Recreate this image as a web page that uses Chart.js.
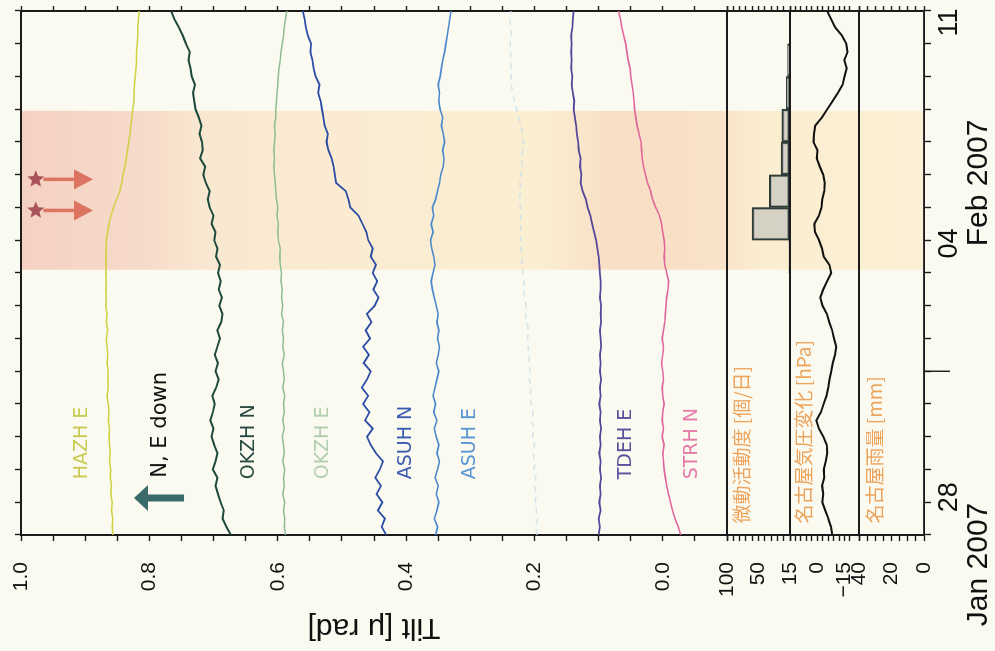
<!DOCTYPE html>
<html>
<head>
<meta charset="utf-8">
<script src="https://cdn.jsdelivr.net/npm/chart.js@4.4.1/dist/chart.umd.min.js"></script>
<style>
  html, body { margin: 0; padding: 0; background: #fbfaf1; overflow: hidden; }
  /* the figure is printed turned a quarter turn, so the chart is drawn upright and rotated */
  #wrap { position: absolute; left: 0; top: 0; width: 651px; height: 995px;
          transform-origin: 0 0; transform: translate(0, 651px) rotate(-90deg); }
</style>
</head>
<body>
<div id="wrap"><canvas id="tiltChart" width="651" height="995"></canvas></div>
<script>
// days since 27 Jan 2007 00:00
const days = [
  0, 0.25, 0.5, 0.75, 1, 1.25, 1.5, 1.75, 2, 2.25, 2.5, 2.75, 3, 3.25, 3.5, 3.75,
  4, 4.25, 4.5, 4.75, 5, 5.25, 5.5, 5.75, 6, 6.25, 6.5, 6.75, 7, 7.25, 7.5, 7.75,
  8, 8.25, 8.5, 8.75, 9, 9.25, 9.5, 9.75, 10, 10.25, 10.5, 10.75, 11, 11.25, 11.5, 11.75,
  12, 12.25, 12.5, 12.75, 13, 13.25, 13.5, 13.75, 14, 14.25, 14.5, 14.75, 15, 15.25, 15.5, 15.75,
  16
];

// tilt [micro rad], four rows of four days each
const hazhE = [
  0.857, 0.858, 0.857, 0.859, 0.858, 0.860, 0.859, 0.861, 0.860, 0.862, 0.861, 0.862, 0.863, 0.862, 0.864, 0.863,
  0.864, 0.866, 0.864, 0.865, 0.864, 0.866, 0.865, 0.866, 0.867, 0.865, 0.867, 0.866, 0.868, 0.867, 0.868, 0.867,
  0.868, 0.867, 0.868, 0.867, 0.867, 0.865, 0.863, 0.860, 0.856, 0.851, 0.846, 0.843, 0.841, 0.838, 0.836, 0.834,
  0.832, 0.830, 0.829, 0.827, 0.826, 0.824, 0.824, 0.823, 0.822, 0.821, 0.820, 0.820, 0.819, 0.818, 0.818, 0.817,
  0.816
];
const okzhN = [
  0.673, 0.680, 0.686, 0.684, 0.689, 0.693, 0.697, 0.694, 0.701, 0.697, 0.694, 0.699, 0.703, 0.700, 0.705, 0.701,
  0.698, 0.702, 0.696, 0.692, 0.697, 0.693, 0.698, 0.694, 0.690, 0.694, 0.688, 0.686, 0.691, 0.687, 0.692, 0.689,
  0.693, 0.690, 0.696, 0.694, 0.699, 0.697, 0.703, 0.700, 0.706, 0.709, 0.706, 0.712, 0.716, 0.713, 0.721, 0.717,
  0.718, 0.722, 0.719, 0.723, 0.728, 0.730, 0.732, 0.729, 0.734, 0.736, 0.739, 0.737, 0.743, 0.748, 0.754, 0.761,
  0.766
];
const okzhE = [
  0.588, 0.590, 0.589, 0.591, 0.589, 0.592, 0.590, 0.591, 0.589, 0.592, 0.590, 0.591, 0.593, 0.590, 0.592, 0.590,
  0.591, 0.589, 0.592, 0.590, 0.591, 0.593, 0.590, 0.592, 0.591, 0.593, 0.591, 0.594, 0.592, 0.594, 0.593, 0.595,
  0.594, 0.596, 0.597, 0.596, 0.599, 0.600, 0.599, 0.601, 0.600, 0.602, 0.603, 0.604, 0.605, 0.606, 0.605, 0.606,
  0.605, 0.604, 0.605, 0.603, 0.603, 0.602, 0.601, 0.600, 0.599, 0.598, 0.596, 0.595, 0.593, 0.591, 0.590, 0.588,
  0.586
];
const asuhN = [
  0.431, 0.438, 0.433, 0.444, 0.437, 0.446, 0.439, 0.448, 0.441, 0.436, 0.447, 0.455, 0.461, 0.452, 0.464, 0.457,
  0.467, 0.459, 0.469, 0.461, 0.455, 0.466, 0.458, 0.467, 0.456, 0.463, 0.454, 0.461, 0.449, 0.443, 0.451, 0.445,
  0.452, 0.447, 0.455, 0.452, 0.459, 0.462, 0.468, 0.474, 0.487, 0.490, 0.494, 0.509, 0.511, 0.513, 0.516, 0.521,
  0.524, 0.522, 0.527, 0.529, 0.531, 0.533, 0.537, 0.535, 0.541, 0.544, 0.546, 0.549, 0.548, 0.553, 0.556, 0.558,
  0.561
];
const asuhE = [
  0.354, 0.351, 0.356, 0.352, 0.349, 0.353, 0.350, 0.355, 0.351, 0.348, 0.352, 0.349, 0.353, 0.356, 0.352, 0.357,
  0.354, 0.358, 0.355, 0.352, 0.349, 0.353, 0.350, 0.348, 0.351, 0.349, 0.352, 0.350, 0.353, 0.356, 0.359, 0.361,
  0.358, 0.355, 0.357, 0.360, 0.362, 0.358, 0.361, 0.357, 0.359, 0.354, 0.351, 0.348, 0.346, 0.342, 0.341, 0.343,
  0.340, 0.342, 0.345, 0.343, 0.347, 0.349, 0.348, 0.350, 0.347, 0.345, 0.343, 0.340, 0.338, 0.336, 0.334, 0.332,
  0.330
];
// very faint trace with no readable name
const faintTrace = [
  0.196, 0.198, 0.195, 0.197, 0.199, 0.197, 0.200, 0.198, 0.201, 0.199, 0.202, 0.200, 0.203, 0.201, 0.204, 0.202,
  0.205, 0.207, 0.205, 0.208, 0.207, 0.209, 0.208, 0.210, 0.211, 0.209, 0.212, 0.214, 0.213, 0.215, 0.217, 0.216,
  0.218, 0.220, 0.219, 0.221, 0.222, 0.220, 0.223, 0.221, 0.222, 0.224, 0.221, 0.223, 0.221, 0.219, 0.220, 0.218,
  0.217, 0.219, 0.221, 0.224, 0.228, 0.231, 0.234, 0.236, 0.237, 0.236, 0.238, 0.237, 0.238, 0.236, 0.237, 0.238,
  0.237
];
const tdehE = [
  0.100, 0.098, 0.100, 0.097, 0.099, 0.097, 0.098, 0.096, 0.098, 0.097, 0.099, 0.097, 0.098, 0.096, 0.098, 0.097,
  0.099, 0.097, 0.098, 0.096, 0.098, 0.097, 0.098, 0.096, 0.097, 0.098, 0.096, 0.097, 0.096, 0.098, 0.097, 0.097,
  0.098, 0.099, 0.100, 0.102, 0.104, 0.107, 0.110, 0.113, 0.117, 0.120, 0.125, 0.128, 0.127, 0.129, 0.128, 0.131,
  0.132, 0.134, 0.135, 0.137, 0.139, 0.138, 0.140, 0.142, 0.141, 0.143, 0.142, 0.143, 0.142, 0.143, 0.141, 0.140,
  0.139
];
const strhN = [
  -0.028, -0.024, -0.019, -0.015, -0.012, -0.009, -0.006, -0.004, -0.002, -0.001, 0.000, -0.002, 0.001, -0.001, 0.001, 0.000,
  -0.002, 0.000, 0.001, -0.001, 0.000, 0.002, 0.000, -0.001, 0.001, -0.001, -0.003, -0.004, -0.005, -0.006, -0.008, -0.009,
  -0.006, -0.003, -0.002, -0.003, -0.002, 0.000, 0.002, 0.005, 0.011, 0.016, 0.019, 0.024, 0.027, 0.030, 0.032, 0.033,
  0.034, 0.037, 0.040, 0.042, 0.044, 0.045, 0.046, 0.048, 0.050, 0.051, 0.054, 0.056, 0.058, 0.061, 0.064, 0.066,
  0.069
];

// Nagoya air pressure change [hPa]
const pressure = [
  -8.3, -7.6, -6.1, -4.4, -2.8, -3.3, -2.7, -3.8, -3.6, -4.7, -5.5, -5.2, -3.4, -0.9, 0.5, -2.0,
  -3.5, -5.1, -6.1, -6.7, -7.7, -8.5, -9.8, -10.5, -9.2, -8.2, -6.6, -5.3, -2.9, -1.7, -3.3, -5.5,
  -7.7, -6.7, -3.6, -2.6, -1.0, 1.2, 1.6, -0.9, -2.3, -2.8, -3.9, -4.1, -3.3, -1.4, 0.3, -0.1,
  2.1, 1.8, 1.1, -2.6, -5.5, -8.5, -11.4, -14.0, -15.0, -16.2, -14.9, -16.7, -16.0, -13.6, -9.9, -7.6,
  -5.5
];

// tremor activity [events / day], bars centred on each day
const tremorDays = [8.5, 9.5, 10.5, 11.5, 12.5, 13.5, 14.5];
const tremorCounts = [2, 60, 33, 14, 13, 6, 4];

// Nagoya rainfall [mm / day] - none in this period
const rainDays = [0.5, 1.5, 2.5, 3.5, 4.5, 5.5, 6.5, 7.5, 8.5, 9.5, 10.5, 11.5, 12.5, 13.5, 14.5, 15.5];
const rainMm = [0, 0, 0, 0, 0, 0, 0, 0, 0, 0, 0, 0, 0, 0, 0, 0];

// tick labels
const tiltTicks = [0, 0.2, 0.4, 0.6, 0.8, 1.0];
const tremorTicks = [100, 50];
const pressureTicks = [15, 0, -15];
const rainTicks = [40, 20, 0];
const dayLabels = ['28', '04', '11'];
const dayLabelAt = [1.15, 8.9, 15.65];
const monthLabels = ['Jan 2007', 'Feb 2007'];
const monthLabelAt = [-0.9, 10.75];
const monthStart = 5;          // 1 Feb

// shaded slow-slip period and the two low-frequency events
const slipPeriod = [8.1, 12.95];
const eventDays = [9.91, 10.86];

Chart.defaults.font.family = '"Liberation Sans", Arial, sans-serif';
Chart.defaults.color = '#111';

const ink = '#1b1b1b';

function has(list, v) {
    return list.some(l => Math.abs(l - v) < 1e-6);
}

function leftAxis(min, max, step, weight, stackWeight, list, fmt) {
    return {
        type: 'linear', position: 'left', stack: 'left', weight: weight, stackWeight: stackWeight,
        min: min, max: max,
        border: { color: ink, width: 2 },
        grid: { drawOnChartArea: false, tickLength: 6, tickWidth: 1.4, tickColor: ink },
        ticks: {
            stepSize: step, autoSkip: false, padding: 21, font: { size: 21 }, color: '#111',
            callback: v => has(list, v) ? fmt(v) : ''
        },
        afterFit: s => { s.width = 116; s.paddingTop = 0; s.paddingBottom = 0; }
    };
}

function rightAxis(min, max, step, weight, stackWeight) {
    return {
        type: 'linear', position: 'right', stack: 'right', weight: weight, stackWeight: stackWeight,
        min: min, max: max,
        border: { color: ink, width: 2 },
        grid: { drawOnChartArea: false, tickLength: 5, tickWidth: 1.4, tickColor: ink },
        ticks: { display: false, stepSize: step, autoSkip: false },
        afterFit: s => { s.width = 11; s.paddingTop = 0; s.paddingBottom = 0; }
    };
}

function timeAxis(position, tick, height) {
    return {
        type: 'linear', position: position, min: 0, max: 16, offset: false,
        border: { color: ink, width: 2 },
        grid: { drawOnChartArea: false, offset: false, tickLength: tick, tickWidth: 1.4, tickColor: ink },
        ticks: { display: false, stepSize: 1, autoSkip: false },
        afterFit: s => { s.height = height; s.paddingLeft = 0; s.paddingRight = 0; }
    };
}

const minus = v => (v < 0 ? '\u2212' + Math.abs(v) : String(Math.abs(v)));

const tags = [
    { text: 'HAZH E', color: '#c9cc52', value: 0.905 },
    { text: 'OKZH N', color: '#27493f', value: 0.645 },
    { text: 'OKZH E', color: '#b2cfae', value: 0.530 },
    { text: 'ASUH N', color: '#3a5bb0', value: 0.400 },
    { text: 'ASUH E', color: '#5b95d2', value: 0.301 },
    { text: 'TDEH E', color: '#5e509c', value: 0.058 },
    { text: 'STRH N', color: '#e47aa8', value: -0.045 }
];
const panelTags = [
    { text: '微動活動度 [個/日]', scale: 'yh', value: 76 },
    { text: '名古屋気圧変化 [hPa]', scale: 'yp', value: 7.3 },
    { text: '名古屋雨量 [mm]', scale: 'yr', value: 30 }
];

function arrow(ctx, x, y0, y1, shaft, headLen, headHalf, color) {
    const dir = y1 > y0 ? 1 : -1;
    const yb = y1 - dir * headLen;
    ctx.fillStyle = color;
    ctx.fillRect(x - shaft / 2, Math.min(y0, yb), shaft, Math.abs(yb - y0));
    ctx.beginPath();
    ctx.moveTo(x - headHalf, yb);
    ctx.lineTo(x + headHalf, yb);
    ctx.lineTo(x, y1);
    ctx.closePath();
    ctx.fill();
}

function star(ctx, cx, cy, r, color) {
    ctx.beginPath();
    for (let i = 0; i < 10; i++) {
        const rr = i % 2 ? r * 0.45 : r;
        const a = i * Math.PI / 5;
        ctx.lineTo(cx + rr * Math.cos(a), cy + rr * Math.sin(a));
    }
    ctx.closePath();
    ctx.fillStyle = color;
    ctx.fill();
}

const overlay = {
    id: 'overlay',
    beforeDraw(chart) {
        const { ctx, chartArea: a, scales } = chart;
        const x0 = scales.x.getPixelForValue(slipPeriod[0]);
        const x1 = scales.x.getPixelForValue(slipPeriod[1]);
        const g = ctx.createLinearGradient(0, a.top, 0, a.bottom);
        g.addColorStop(0, '#f5d1c2');
        g.addColorStop(0.14, '#f7dbca');
        g.addColorStop(0.2, '#f9e8d1');
        g.addColorStop(0.57, '#fbefd2');
        g.addColorStop(0.66, '#f8dec4');
        g.addColorStop(0.77, '#f8e2c8');
        g.addColorStop(0.82, '#fbedd0');
        g.addColorStop(1, '#fbf0d5');
        ctx.save();
        ctx.fillStyle = g;
        ctx.fillRect(x0, a.top, x1 - x0, a.bottom - a.top);
        ctx.restore();
    },
    afterDatasetsDraw(chart) {
        const { ctx, chartArea: a, scales } = chart;
        const x = scales.x, y = scales.y;
        ctx.save();
        // panel separators
        ctx.strokeStyle = ink;
        ctx.lineWidth = 2;
        ['y', 'yh', 'yp'].forEach(id => {
            const v = scales[id].bottom;
            ctx.beginPath();
            ctx.moveTo(a.left, v);
            ctx.lineTo(a.right, v);
            ctx.stroke();
        });
        // station names
        ctx.textAlign = 'left';
        ctx.textBaseline = 'middle';
        ctx.font = '19px "DejaVu Sans"';
        tags.forEach(t => {
            ctx.fillStyle = t.color;
            ctx.fillText(t.text, x.getPixelForValue(1.7), y.getPixelForValue(t.value));
        });
        ctx.font = '19px "Noto Sans CJK JP"';
        ctx.fillStyle = '#eca45c';
        panelTags.forEach(t => {
            ctx.fillText(t.text, x.getPixelForValue(0.35), scales[t.scale].getPixelForValue(t.value));
        });
        // tilt direction
        ctx.font = '21px "DejaVu Sans"';
        ctx.fillStyle = '#111';
        ctx.fillText('N, E down', x.getPixelForValue(1.75), y.getPixelForValue(0.782));
        arrow(ctx, x.getPixelForValue(1.13), y.getPixelForValue(0.746), y.getPixelForValue(0.824), 7, 14, 13, '#3b6a6a');
        // events
        eventDays.forEach(d => {
            const px = x.getPixelForValue(d);
            arrow(ctx, px, y.getPixelForValue(0.965), y.getPixelForValue(0.888), 3.5, 19, 10, '#dc7462');
            star(ctx, px, y.getPixelForValue(0.977), 9, '#a9535a');
        });
        ctx.restore();
    },
    afterDraw(chart) {
        const { ctx, chartArea: a, scales } = chart;
        const x = scales.x;
        ctx.save();
        ctx.strokeStyle = ink;
        ctx.lineWidth = 1.4;
        const m = x.getPixelForValue(monthStart);
        ctx.beginPath();
        ctx.moveTo(m, a.bottom);
        ctx.lineTo(m, a.bottom + 26);
        ctx.stroke();
        ctx.fillStyle = '#111';
        ctx.font = '27px "Liberation Sans"';
        ctx.textAlign = 'center';
        ctx.textBaseline = 'middle';
        dayLabels.forEach((t, i) => ctx.fillText(t, x.getPixelForValue(dayLabelAt[i]), a.bottom + 26));
        ctx.font = '30px "Liberation Sans"';
        monthLabels.forEach((t, i) => ctx.fillText(t, x.getPixelForValue(monthLabelAt[i]), a.bottom + 55));
        ctx.restore();
    }
};

const line = (label, values, color, width) => ({
    type: 'line', label: label, data: values, xAxisID: 'x', yAxisID: 'y',
    borderColor: color, borderWidth: width, pointRadius: 0, tension: 0
});

const config = {
    type: 'line',
    data: {
        labels: days,
        datasets: [
            line('HAZH E', hazhE, '#cfd140', 1.5),
            line('OKZH N', okzhN, '#1d4a3c', 2),
            line('OKZH E', okzhE, '#8fbd93', 1.5),
            line('ASUH N', asuhN, '#2a4ca4', 1.8),
            line('ASUH E', asuhE, '#4a88cc', 1.6),
            Object.assign(line('', faintTrace, 'rgba(200,222,234,0.8)', 1.5), { borderDash: [6, 5] }),
            line('TDEH E', tdehE, '#54479a', 1.8),
            line('STRH N', strhN, '#e0669c', 1.6),
            {
                type: 'line', label: 'pressure', data: pressure, xAxisID: 'x', yAxisID: 'yp',
                borderColor: '#111', borderWidth: 2, pointRadius: 0, tension: 0
            },
            {
                type: 'bar', label: 'tremor',
                data: tremorDays.map((d, i) => ({ x: d, y: tremorCounts[i] })),
                xAxisID: 'x', yAxisID: 'yh',
                backgroundColor: 'rgba(200,200,192,0.75)', borderColor: '#2f3d38', borderWidth: 2,
                borderSkipped: false, barPercentage: 1, categoryPercentage: 1, grouped: false
            },
            {
                type: 'bar', label: 'rain',
                data: rainDays.map((d, i) => ({ x: d, y: rainMm[i] })),
                xAxisID: 'x', yAxisID: 'yr',
                backgroundColor: '#888', borderWidth: 0, barPercentage: 1, categoryPercentage: 1, grouped: false
            }
        ]
    },
    options: {
        responsive: false,
        animation: false,
        layout: { padding: 0 },
        plugins: { legend: { display: false }, tooltip: { enabled: false } },
        scales: {
            x: timeAxis('bottom', 7, 71),
            xTop: timeAxis('top', 6, 21),
            y: Object.assign(leftAxis(-0.1, 1.0, 0.05, 4, 706, tiltTicks, v => Math.abs(v).toFixed(1)), {
                title: { display: true, text: 'Tilt [μ rad]', font: { size: 30 }, color: '#111', padding: { top: 6, bottom: 0 } }
            }),
            yh: leftAxis(0, 100, 10, 3, 63, tremorTicks, v => String(v)),
            yp: leftAxis(-23, 15, 3, 2, 69, pressureTicks, minus),
            yr: leftAxis(0, 40, 5, 1, 65, rainTicks, v => String(v)),
            y2: rightAxis(-0.1, 1.0, 0.05, 1, 706),
            yh2: rightAxis(0, 100, 10, 2, 63),
            yp2: rightAxis(-23, 15, 3, 3, 69),
            yr2: rightAxis(0, 40, 5, 4, 65)
        }
    },
    plugins: [overlay]
};

var tiltChart = new Chart(document.getElementById('tiltChart'), config);
</script>
</body>
</html>
